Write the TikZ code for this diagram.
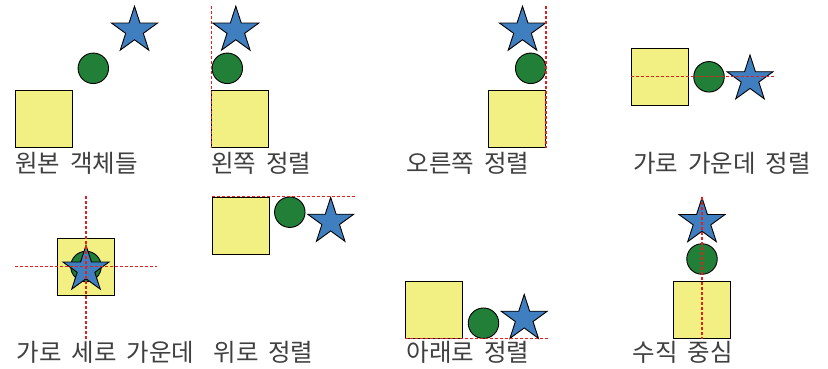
\documentclass[tikz,border=0pt]{standalone}
\usepackage{fontspec}
\newfontfamily\kr[WordSpace=1.8]{Noto Sans CJK KR}
\usetikzlibrary{shapes.geometric}
\definecolor{sqfill}{HTML}{F2F083}
\definecolor{cfill}{HTML}{217F38}
\definecolor{sfill}{HTML}{3F7FBF}
\definecolor{guidered}{HTML}{E3201E}
\definecolor{txt}{HTML}{404040}
\tikzset{
  sq/.style={draw=black, fill=sqfill, rectangle, minimum size=57pt, inner sep=0pt, line width=0.9pt},
  circ/.style={draw=black, fill=cfill, circle, minimum size=30.5pt, inner sep=0pt, line width=0.9pt},
  starshape/.style={draw=black, fill=sfill, star, star points=5, star point ratio=2.618, minimum size=48.5pt, inner sep=0pt, line width=0.9pt},
  guide/.style={draw=guidered, line width=1.5pt, dash pattern=on 3pt off 2pt},
  lbl/.style={anchor=base west, inner sep=0pt, text=txt, font=\kr\fontsize{24.5}{24.5}\selectfont}
}
\begin{document}
\begin{tikzpicture}[x=1pt,y=-1pt]
\useasboundingbox[fill=white] (0,0) rectangle (828,368);
% Panel 1
\node[sq] (sq1) at (44.3,119) {};
\node[circ] (c1) at (93.3,68.3) {};
\node[starshape] (s1) at (134.5,30.5) {};
\node[lbl] (t1) at (15,172) {원본 객체들};
% Panel 2
\node[sq] (sq2) at (240.3,119) {};
\node[circ] (c2) at (227.3,68.3) {};
\node[starshape] (s2) at (235.8,30.5) {};
\coordinate (g2a) at (211.3,6);
\coordinate (g2b) at (211.3,148);
\draw[guide] (g2a) -- (g2b);
\node[lbl] (t2) at (211,172) {왼쪽 정렬};
% Panel 3
\node[sq] (sq3) at (517,119) {};
\node[circ] (c3) at (530.7,68.3) {};
\node[starshape] (s3) at (522.5,30.5) {};
\coordinate (g3a) at (546,6);
\coordinate (g3b) at (546,148);
\draw[guide] (g3a) -- (g3b);
\node[lbl] (t3) at (406.7,172) {오른쪽 정렬};
% Panel 4
\node[sq] (sq4) at (660,76.8) {};
\node[circ] (c4) at (709,76.8) {};
\node[starshape] (s4) at (750,79.2) {};
\coordinate (g4a) at (631,76.7);
\coordinate (g4b) at (774,76.7);
\draw[guide] (g4a) -- (g4b);
\node[lbl] (t4) at (633,172) {가로 가운데 정렬};
% Panel 5
\node[sq] (sq5) at (85.7,266.7) {};
\node[circ] (c5) at (86,266.5) {};
\node[starshape] (s5) at (86,269.5) {};
\coordinate (g5a) at (86,196);
\coordinate (g5b) at (86,339);
\coordinate (g5c) at (15,266.3);
\coordinate (g5d) at (156.7,266.3);
\draw[guide] (g5a) -- (g5b);
\draw[guide] (g5c) -- (g5d);
\node[lbl] (t5) at (16.7,361.5) {가로 세로 가운데};
% Panel 6
\node[sq] (sq6) at (241,225.7) {};
\node[circ] (c6) at (289.8,212.2) {};
\node[starshape] (s6) at (330.7,221.7) {};
\coordinate (g6a) at (212,196.7);
\coordinate (g6b) at (355,196.7);
\draw[guide] (g6a) -- (g6b);
\node[lbl] (t6) at (213.3,361.5) {위로 정렬};
% Panel 7
\node[sq] (sq7) at (434.3,309.7) {};
\node[circ] (c7) at (483.5,323.2) {};
\node[starshape] (s7) at (524.2,318.7) {};
\coordinate (g7a) at (405,338.7);
\coordinate (g7b) at (548,338.7);
\draw[guide] (g7a) -- (g7b);
\node[lbl] (t7) at (406.7,361.5) {아래로 정렬};
% Panel 8
\node[sq] (sq8) at (702,310) {};
\node[circ] (c8) at (702,259) {};
\node[starshape] (s8) at (702,222) {};
\coordinate (g8a) at (702,196.7);
\coordinate (g8b) at (702,339);
\draw[guide] (g8a) -- (g8b);
\node[lbl] (t8) at (632.7,361.5) {수직 중심};
\end{tikzpicture}
\end{document}
